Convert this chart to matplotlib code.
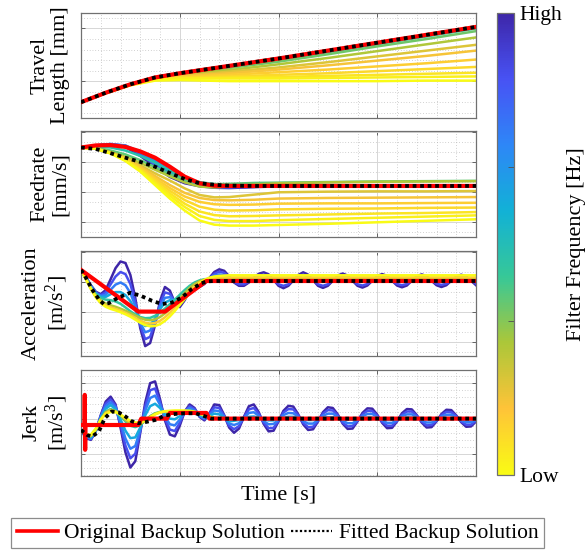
import numpy as np
import matplotlib
matplotlib.use('Agg')
from matplotlib import pyplot as plt
from matplotlib.colors import LinearSegmentedColormap, Normalize
from matplotlib.lines import Line2D
from matplotlib.ticker import MultipleLocator
import matplotlib.cm as cm

plt.rcParams['font.family'] = ['Liberation Serif', 'DejaVu Serif']
plt.rcParams['mathtext.fontset'] = 'custom'
plt.rcParams['mathtext.rm'] = 'Liberation Serif'
plt.rcParams['mathtext.it'] = 'Liberation Serif:italic'

# values, in panel units (1 unit = one major grid step)
# level: 0 = lowest filter frequency (yellow), 1 = highest (dark blue)

# --- travel length ---
t_travel = [0, 0.25, 0.5, 0.75, 1, 1.25, 1.5, 2, 2.5, 3, 3.5, 4]
travel_orig = [-0.40, -0.22, -0.06, 0.07, 0.15, 0.22, 0.29, 0.43, 0.58, 0.73, 0.88, 1.03]
travel_fit = [-0.40, -0.22, -0.06, 0.07, 0.15, 0.22, 0.29, 0.43, 0.58, 0.73, 0.88, 1.03]
travel_levels = [0.00, 0.03, 0.06, 0.09, 0.12, 0.16, 0.20, 0.28, 0.36, 0.45]
travel_family = [
    [-0.40, -0.23, -0.08, 0.01, 0.02, 0.01, 0.00, 0.00, 0.00, 0.00, 0.01, 0.01],
    [-0.40, -0.23, -0.07, 0.03, 0.05, 0.05, 0.05, 0.05, 0.06, 0.07, 0.08, 0.09],
    [-0.40, -0.22, -0.07, 0.04, 0.06, 0.06, 0.07, 0.08, 0.10, 0.12, 0.14, 0.16],
    [-0.40, -0.22, -0.07, 0.04, 0.07, 0.08, 0.09, 0.12, 0.15, 0.19, 0.23, 0.27],
    [-0.40, -0.22, -0.07, 0.05, 0.08, 0.10, 0.12, 0.17, 0.22, 0.28, 0.34, 0.41],
    [-0.40, -0.22, -0.06, 0.05, 0.09, 0.12, 0.15, 0.22, 0.30, 0.39, 0.48, 0.58],
    [-0.40, -0.22, -0.06, 0.06, 0.11, 0.14, 0.18, 0.26, 0.36, 0.47, 0.58, 0.69],
    [-0.40, -0.22, -0.06, 0.06, 0.12, 0.17, 0.21, 0.32, 0.44, 0.57, 0.70, 0.83],
    [-0.40, -0.22, -0.06, 0.07, 0.14, 0.19, 0.25, 0.37, 0.51, 0.66, 0.80, 0.95],
    [-0.40, -0.22, -0.06, 0.07, 0.15, 0.21, 0.27, 0.40, 0.55, 0.70, 0.85, 1.00],
]

# --- feedrate ---
t_feed = [0, 0.15, 0.3, 0.45, 0.6, 0.75, 0.9, 1.05, 1.2, 1.35, 1.5, 1.75, 2, 2.5, 3, 3.5, 4]
feed_orig = [1.48, 1.55, 1.56, 1.50, 1.35, 1.14, 0.84, 0.51, 0.29, 0.21, 0.20, 0.20, 0.20, 0.20, 0.20, 0.20, 0.20]
feed_fit = [1.48, 1.43, 1.29, 1.14, 1.00, 0.84, 0.63, 0.43, 0.29, 0.24, 0.21, 0.20, 0.20, 0.20, 0.20, 0.20, 0.20]
feed_levels = [0.00, 0.03, 0.06, 0.09, 0.12, 0.16, 0.20, 0.28, 0.38, 0.48, 0.60, 0.72, 0.85, 1.00]
feed_family = [
    [1.48, 1.44, 1.28, 1.03, 0.68, 0.23, -0.22, -0.62, -0.95, -1.09, -1.12, -1.12, -1.10, -1.06, -1.01, -0.96, -0.91],
    [1.48, 1.44, 1.29, 1.05, 0.71, 0.29, -0.13, -0.50, -0.80, -0.93, -0.97, -0.97, -0.94, -0.90, -0.86, -0.82, -0.78],
    [1.48, 1.44, 1.29, 1.06, 0.74, 0.34, -0.05, -0.39, -0.65, -0.77, -0.81, -0.80, -0.78, -0.75, -0.72, -0.70, -0.67],
    [1.48, 1.44, 1.30, 1.08, 0.77, 0.40, 0.04, -0.27, -0.49, -0.59, -0.62, -0.61, -0.58, -0.56, -0.55, -0.53, -0.52],
    [1.48, 1.44, 1.30, 1.09, 0.80, 0.46, 0.13, -0.15, -0.33, -0.41, -0.43, -0.42, -0.39, -0.38, -0.38, -0.37, -0.36],
    [1.48, 1.44, 1.31, 1.11, 0.84, 0.53, 0.23, -0.03, -0.20, -0.27, -0.28, -0.26, -0.22, -0.20, -0.19, -0.18, -0.17],
    [1.48, 1.44, 1.31, 1.13, 0.89, 0.62, 0.38, 0.12, -0.10, -0.18, -0.17, -0.09, -0.01, 0.01, 0.02, 0.02, 0.03],
    [1.48, 1.45, 1.33, 1.17, 0.97, 0.74, 0.52, 0.32, 0.18, 0.15, 0.18, 0.24, 0.29, 0.32, 0.34, 0.35, 0.36],
    [1.48, 1.47, 1.38, 1.25, 1.06, 0.83, 0.59, 0.40, 0.29, 0.26, 0.27, 0.30, 0.31, 0.33, 0.35, 0.36, 0.37],
    [1.48, 1.50, 1.48, 1.38, 1.20, 0.97, 0.70, 0.47, 0.33, 0.26, 0.23, 0.22, 0.22, 0.21, 0.21, 0.21, 0.21],
    [1.48, 1.54, 1.56, 1.50, 1.32, 1.05, 0.72, 0.44, 0.28, 0.21, 0.19, 0.19, 0.20, 0.20, 0.20, 0.20, 0.20],
    [1.48, 1.55, 1.59, 1.55, 1.33, 0.99, 0.64, 0.38, 0.24, 0.18, 0.17, 0.18, 0.20, 0.20, 0.20, 0.20, 0.20],
    [1.48, 1.55, 1.60, 1.54, 1.27, 0.91, 0.57, 0.33, 0.21, 0.16, 0.15, 0.17, 0.19, 0.20, 0.20, 0.20, 0.20],
    [1.48, 1.55, 1.59, 1.50, 1.20, 0.84, 0.50, 0.29, 0.19, 0.14, 0.13, 0.16, 0.19, 0.20, 0.20, 0.20, 0.20],
]

# time grids for acceleration / jerk
t_fine = np.linspace(0, 4, 81)                      # 0.05 s steps
t_smooth = np.r_[np.linspace(0, 1.5, 31), 2.0, 3.0, 4.0]

# --- acceleration ---
acc_orig_t = [0, 0.58, 0.85, 1.27, 4.0]
acc_orig = [1.39, 0.0, 0.0, 1.02, 1.02]
acc_fit_t = [0, 0.04, 0.11, 0.18, 0.23, 0.28, 0.38, 0.50, 0.61, 0.72, 0.82, 0.92, 1.02, 1.12, 1.22, 1.29, 1.35, 4.0]
acc_fit = [1.39, 1.19, 0.75, 0.41, 0.25, 0.28, 0.47, 0.63, 0.52, 0.36, 0.25, 0.30, 0.47, 0.75, 0.95, 1.01, 1.02, 1.02]
acc_smooth_levels = [0.00, 0.12, 0.28, 0.45]
acc_smooth = [
    [1.39, 1.08, 0.75, 0.47, 0.28, 0.16, 0.09, 0.04, -0.02, -0.09,
     -0.17, -0.27, -0.37, -0.45, -0.49, -0.48, -0.42, -0.31, -0.16, 0.02,
     0.22, 0.42, 0.61, 0.79, 0.94, 1.05, 1.13, 1.17, 1.19, 1.20,
     1.21, 1.21, 1.21, 1.21],
    [1.39, 1.08, 0.76, 0.50, 0.32, 0.21, 0.14, 0.09, 0.03, -0.04,
     -0.12, -0.21, -0.30, -0.37, -0.40, -0.38, -0.31, -0.19, -0.04, 0.13,
     0.32, 0.51, 0.69, 0.85, 0.97, 1.06, 1.11, 1.13, 1.14, 1.14,
     1.14, 1.14, 1.14, 1.14],
    [1.39, 1.09, 0.78, 0.53, 0.37, 0.27, 0.21, 0.16, 0.10, 0.03,
     -0.05, -0.13, -0.21, -0.27, -0.29, -0.26, -0.18, -0.06, 0.09, 0.26,
     0.44, 0.62, 0.79, 0.92, 1.01, 1.06, 1.08, 1.09, 1.09, 1.09,
     1.09, 1.09, 1.09, 1.09],
    [1.39, 1.10, 0.80, 0.58, 0.45, 0.40, 0.38, 0.34, 0.26, 0.14,
     0.01, -0.10, -0.18, -0.22, -0.21, -0.14, -0.03, 0.10, 0.25, 0.40,
     0.56, 0.72, 0.86, 0.97, 1.04, 1.08, 1.09, 1.08, 1.07, 1.06,
     1.06, 1.06, 1.06, 1.06],
]
acc_osc_levels = [0.60, 0.74, 0.87, 1.00]
acc_osc = [
    [1.39, 1.11, 0.82, 0.60, 0.49, 0.49, 0.58, 0.65, 0.65, 0.55,
     0.35, 0.05, -0.28, -0.48, -0.45, -0.23, 0.08, 0.30, 0.38, 0.37,
     0.45, 0.62, 0.81, 0.92, 0.98, 1.04, 1.10, 1.15, 1.17, 1.14,
     1.09, 1.07, 1.05, 1.04, 1.04, 1.05, 1.06, 1.06, 1.06, 1.05,
     1.04, 1.04, 1.04, 1.05, 1.06, 1.06, 1.06, 1.05, 1.04, 1.04,
     1.04, 1.05, 1.06, 1.06, 1.06, 1.05, 1.04, 1.04, 1.04, 1.05,
     1.06, 1.06, 1.06, 1.05, 1.04, 1.04, 1.04, 1.05, 1.06, 1.06,
     1.06, 1.05, 1.04, 1.04, 1.04, 1.05, 1.06, 1.06, 1.06, 1.05,
     1.04],
    [1.39, 1.13, 0.84, 0.62, 0.52, 0.56, 0.73, 0.90, 0.97, 0.88,
     0.62, 0.18, -0.37, -0.69, -0.63, -0.30, 0.16, 0.46, 0.48, 0.35,
     0.35, 0.55, 0.77, 0.87, 0.93, 1.00, 1.11, 1.20, 1.24, 1.21,
     1.12, 1.03, 1.01, 1.01, 1.03, 1.06, 1.08, 1.09, 1.08, 1.05,
     1.01, 1.00, 1.01, 1.04, 1.07, 1.08, 1.07, 1.04, 1.01, 1.00,
     1.01, 1.04, 1.06, 1.07, 1.06, 1.04, 1.02, 1.01, 1.02, 1.04,
     1.06, 1.07, 1.06, 1.04, 1.02, 1.01, 1.02, 1.04, 1.06, 1.06,
     1.06, 1.04, 1.02, 1.02, 1.02, 1.04, 1.05, 1.06, 1.05, 1.04,
     1.02],
    [1.39, 1.14, 0.86, 0.64, 0.55, 0.64, 0.91, 1.17, 1.32, 1.25,
     0.92, 0.31, -0.46, -0.92, -0.84, -0.37, 0.26, 0.64, 0.59, 0.32,
     0.25, 0.46, 0.72, 0.83, 0.87, 0.96, 1.11, 1.26, 1.33, 1.29,
     1.15, 0.99, 0.91, 0.91, 0.99, 1.10, 1.19, 1.23, 1.18, 1.05,
     0.91, 0.86, 0.91, 1.04, 1.17, 1.23, 1.17, 1.05, 0.91, 0.86,
     0.91, 1.03, 1.15, 1.20, 1.15, 1.03, 0.91, 0.87, 0.92, 1.03,
     1.15, 1.19, 1.15, 1.03, 0.92, 0.88, 0.92, 1.03, 1.14, 1.18,
     1.14, 1.03, 0.93, 0.89, 0.93, 1.03, 1.13, 1.17, 1.13, 1.03,
     0.93],
    [1.39, 1.15, 0.88, 0.66, 0.58, 0.72, 1.08, 1.45, 1.67, 1.62,
     1.22, 0.45, -0.55, -1.15, -1.05, -0.45, 0.35, 0.82, 0.70, 0.30,
     0.15, 0.38, 0.68, 0.78, 0.82, 0.92, 1.12, 1.32, 1.41, 1.36,
     1.18, 0.97, 0.86, 0.86, 0.97, 1.13, 1.26, 1.31, 1.24, 1.06,
     0.86, 0.78, 0.86, 1.04, 1.22, 1.31, 1.23, 1.05, 0.86, 0.79,
     0.86, 1.03, 1.20, 1.27, 1.20, 1.03, 0.86, 0.80, 0.87, 1.03,
     1.19, 1.25, 1.19, 1.03, 0.87, 0.81, 0.87, 1.03, 1.18, 1.24,
     1.18, 1.03, 0.88, 0.82, 0.88, 1.03, 1.17, 1.23, 1.17, 1.03,
     0.88],
]

# --- jerk ---
jerk_orig_t = [0, 0.035, 0.038, 0.042, 0.045, 0.58, 0.61, 0.87, 0.90, 1.27, 1.30, 4.0]
jerk_orig = [-0.18, -0.18, 0.67, -0.88, -0.18, -0.18, 0.0, 0.0, 0.16, 0.16, 0.0, 0.0]
jerk_fit_t = [0, 0.06, 0.11, 0.18, 0.24, 0.31, 0.38, 0.45, 0.51, 0.58, 0.65, 0.75, 0.85, 0.95, 1.05, 1.16, 1.26, 1.32, 4.0]
jerk_fit = [-0.32, -0.46, -0.51, -0.37, 0.01, 0.20, 0.18, 0.06, -0.07, -0.13, -0.10, -0.04, 0.09, 0.13, 0.15, 0.15, 0.06, 0.0, 0.0]
jerk_smooth_levels = [0.00, 0.12, 0.28, 0.45]
jerk_smooth = [
    [-0.32, -0.45, -0.45, -0.28, -0.03, 0.13, 0.19, 0.18, 0.11, 0.02,
     -0.06, -0.11, -0.11, -0.05, 0.04, 0.12, 0.18, 0.21, 0.22, 0.23,
     0.23, 0.23, 0.22, 0.20, 0.16, 0.11, 0.06, 0.02, 0.00, 0.00,
     0.00, 0.00, 0.00, 0.00],
    [-0.32, -0.46, -0.47, -0.30, -0.03, 0.15, 0.22, 0.20, 0.11, 0.00,
     -0.09, -0.14, -0.13, -0.06, 0.04, 0.12, 0.17, 0.20, 0.21, 0.21,
     0.21, 0.21, 0.20, 0.18, 0.14, 0.10, 0.05, 0.02, 0.00, 0.00,
     0.00, 0.00, 0.00, 0.00],
    [-0.32, -0.47, -0.49, -0.32, -0.02, 0.18, 0.25, 0.21, 0.10, -0.04,
     -0.15, -0.19, -0.16, -0.06, 0.06, 0.14, 0.18, 0.20, 0.20, 0.19,
     0.19, 0.19, 0.18, 0.16, 0.13, 0.09, 0.05, 0.02, 0.00, 0.00,
     0.00, 0.00, 0.00, 0.00],
    [-0.32, -0.47, -0.50, -0.33, -0.02, 0.20, 0.27, 0.22, 0.08, -0.08,
     -0.20, -0.24, -0.18, -0.06, 0.07, 0.15, 0.19, 0.20, 0.19, 0.18,
     0.18, 0.18, 0.17, 0.15, 0.12, 0.08, 0.05, 0.03, 0.01, 0.00,
     0.00, 0.00, 0.00, 0.00],
]
jerk_osc_levels = [0.60, 0.74, 0.87, 1.00]
jerk_osc = [
    [-0.32, -0.49, -0.53, -0.34, 0.02, 0.28, 0.38, 0.27, -0.02, -0.34,
     -0.55, -0.53, -0.25, 0.09, 0.35, 0.42, 0.30, 0.12, 0.00, -0.02,
     0.07, 0.19, 0.24, 0.20, 0.10, 0.04, 0.08, 0.14, 0.12, 0.03,
     -0.08, -0.06, -0.04, 0.01, 0.05, 0.06, 0.03, -0.02, -0.05, -0.05,
     -0.01, 0.03, 0.05, 0.05, 0.02, -0.02, -0.04, -0.04, -0.01, 0.02,
     0.04, 0.04, 0.02, -0.02, -0.03, -0.03, -0.01, 0.02, 0.03, 0.03,
     0.01, -0.01, -0.03, -0.03, -0.01, 0.02, 0.03, 0.03, 0.01, -0.01,
     -0.02, -0.02, -0.01, 0.01, 0.02, 0.02, 0.01, -0.01, -0.02, -0.02,
     -0.01],
    [-0.32, -0.51, -0.56, -0.34, 0.05, 0.35, 0.46, 0.32, -0.10, -0.56,
     -0.85, -0.77, -0.30, 0.22, 0.58, 0.65, 0.39, 0.06, -0.16, -0.19,
     -0.03, 0.19, 0.30, 0.23, 0.08, 0.01, 0.11, 0.23, 0.21, 0.06,
     -0.14, -0.18, -0.13, 0.02, 0.16, 0.18, 0.08, -0.07, -0.16, -0.15,
     -0.04, 0.10, 0.16, 0.15, 0.05, -0.07, -0.14, -0.14, -0.04, 0.08,
     0.14, 0.14, 0.05, -0.06, -0.13, -0.13, -0.04, 0.07, 0.13, 0.13,
     0.05, -0.05, -0.12, -0.12, -0.04, 0.07, 0.12, 0.12, 0.05, -0.05,
     -0.11, -0.11, -0.04, 0.06, 0.11, 0.11, 0.04, -0.05, -0.10, -0.10,
     -0.04],
    [-0.32, -0.53, -0.58, -0.35, 0.07, 0.42, 0.54, 0.36, -0.18, -0.76,
     -1.12, -0.99, -0.35, 0.34, 0.80, 0.85, 0.47, 0.00, -0.31, -0.35,
     -0.12, 0.20, 0.35, 0.27, 0.07, -0.02, 0.13, 0.32, 0.30, 0.08,
     -0.20, -0.30, -0.21, 0.04, 0.26, 0.30, 0.14, -0.11, -0.27, -0.26,
     -0.06, 0.17, 0.27, 0.26, 0.09, -0.12, -0.24, -0.23, -0.06, 0.14,
     0.24, 0.23, 0.09, -0.11, -0.22, -0.21, -0.06, 0.12, 0.22, 0.21,
     0.08, -0.09, -0.20, -0.20, -0.06, 0.11, 0.20, 0.20, 0.08, -0.08,
     -0.19, -0.18, -0.06, 0.10, 0.19, 0.18, 0.07, -0.08, -0.17, -0.17,
     -0.06],
    [-0.32, -0.55, -0.60, -0.35, 0.10, 0.48, 0.62, 0.40, -0.25, -0.95,
     -1.38, -1.20, -0.40, 0.45, 1.00, 1.05, 0.55, -0.05, -0.45, -0.50,
     -0.20, 0.20, 0.40, 0.30, 0.05, -0.05, 0.15, 0.40, 0.38, 0.10,
     -0.25, -0.40, -0.28, 0.05, 0.35, 0.40, 0.18, -0.15, -0.36, -0.34,
     -0.08, 0.22, 0.36, 0.34, 0.12, -0.16, -0.32, -0.30, -0.08, 0.18,
     0.32, 0.30, 0.12, -0.14, -0.29, -0.28, -0.08, 0.16, 0.29, 0.28,
     0.11, -0.12, -0.27, -0.26, -0.08, 0.15, 0.27, 0.26, 0.10, -0.11,
     -0.25, -0.24, -0.08, 0.13, 0.25, 0.24, 0.09, -0.10, -0.23, -0.22,
     -0.08],
]

# parula-like map, low (yellow) -> high (dark blue)
cmap = LinearSegmentedColormap.from_list('filt', [
    (0.9769, 0.9839, 0.0805), (0.9970, 0.7659, 0.2199), (0.6720, 0.7793, 0.2227),
    (0.2161, 0.7843, 0.5923), (0.0689, 0.6948, 0.8394), (0.1786, 0.5289, 0.9682),
    (0.2810, 0.3228, 0.9579), (0.2422, 0.1504, 0.6603)])

W, H = 588, 552
FS = 16
fig = plt.figure(figsize=(W / 100, H / 100), dpi=100)

panels = [
    dict(top=12.7, bot=118.0, ylim=(-0.70, 1.30), minor=0.2, label='Travel\nLength [mm]',
         family=[(lv, t_travel, r) for lv, r in zip(travel_levels, travel_family)],
         orig=(t_travel, travel_orig), fit=(t_travel, travel_fit)),
    dict(top=131.3, bot=237.0, ylim=(-1.50, 2.02), minor=1 / 3, label='Feedrate\n[mm/s]',
         family=[(lv, t_feed, r) for lv, r in zip(feed_levels, feed_family)],
         orig=(t_feed, feed_orig), fit=(t_feed, feed_fit)),
    dict(top=250.7, bot=356.0, ylim=(-1.48, 2.03), minor=1 / 3, label='Acceleration\n[m/s$^2$]',
         family=[(lv, t_smooth, r) for lv, r in zip(acc_smooth_levels, acc_smooth)]
         + [(lv, t_fine, r) for lv, r in zip(acc_osc_levels, acc_osc)],
         orig=(acc_orig_t, acc_orig), fit=(acc_fit_t, acc_fit)),
    dict(top=369.7, bot=475.7, ylim=(-1.61, 1.38), minor=0.2, label='Jerk\n[m/s$^3$]',
         family=[(lv, t_smooth, r) for lv, r in zip(jerk_smooth_levels, jerk_smooth)]
         + [(lv, t_fine, r) for lv, r in zip(jerk_osc_levels, jerk_osc)],
         orig=(jerk_orig_t, jerk_orig), fit=(jerk_fit_t, jerk_fit)),
]

frame = '#707070'
for p in panels:
    ax = fig.add_axes([81 / W, 1 - p['bot'] / H, 395 / W, (p['bot'] - p['top']) / H])
    # dark blue first, yellow on top
    for lv, t, r in sorted(p['family'], key=lambda f: -f[0]):
        ax.plot(t, r, color=cmap(lv), lw=1.8, zorder=2)
    ax.plot(*p['orig'], color='red', lw=3.0, zorder=3)
    ax.plot(*p['fit'], color='black', lw=2.7, ls=(0, (1, 1)), zorder=4)

    ax.set_xlim(0, 4)
    ax.set_ylim(*p['ylim'])
    ax.xaxis.set_major_locator(MultipleLocator(1))
    ax.xaxis.set_minor_locator(MultipleLocator(0.2))
    ax.yaxis.set_major_locator(MultipleLocator(1))
    ax.yaxis.set_minor_locator(MultipleLocator(p['minor']))
    ax.grid(True, which='major', color='#d6d6d6', lw=0.7)
    ax.grid(True, which='minor', color='#a8a8a8', lw=0.5, ls=(0, (1, 3)))
    ax.set_axisbelow(True)
    ax.tick_params(which='both', direction='in', top=True, right=True,
                   labelbottom=False, labelleft=False)
    ax.tick_params(which='major', length=3, width=0.6, color='#505050')
    ax.tick_params(which='minor', length=0)
    for s in ax.spines.values():
        s.set_color(frame)
        s.set_linewidth(0.9)
    ax.set_ylabel(p['label'], fontsize=FS, linespacing=1.15)
    ax.yaxis.set_label_coords(-0.027, 0.5)

# colorbar
cax = fig.add_axes([497 / W, 1 - 475 / H, 17 / W, (475 - 12.7) / H])
sm = cm.ScalarMappable(norm=Normalize(0, 1), cmap=cmap)
cb = fig.colorbar(sm, cax=cax, ticks=[0, 1 / 3, 2 / 3, 1])
cb.ax.set_yticklabels(['Low', '', '', 'High'], fontsize=15.5)
cb.ax.tick_params(direction='in', length=4, width=0.6, color='#505050', pad=4)
cb.outline.set_edgecolor(frame)
cb.outline.set_linewidth(0.9)
fig.text(577 / W, 1 - 244 / H, 'Filter Frequency [Hz]', rotation=90,
         ha='center', va='center', fontsize=FS)

fig.text(278.5 / W, 1 - 495 / H, 'Time [s]', ha='center', va='center', fontsize=FS)

handles = [Line2D([], [], color='red', lw=2.6),
           Line2D([], [], color='black', lw=1.6, ls=(0, (1, 1)))]
leg = fig.legend(handles, ['Original Backup Solution', 'Fitted Backup Solution'],
                 loc='center', bbox_to_anchor=(277.5 / W, 1 - 533 / H), ncol=2,
                 fontsize=15.5, frameon=True, fancybox=False, edgecolor=frame,
                 handlelength=1.9, handletextpad=0.3, columnspacing=0.3,
                 borderpad=0.25, borderaxespad=0)
leg.get_frame().set_linewidth(0.9)

fig.savefig('out.png', dpi=100)
